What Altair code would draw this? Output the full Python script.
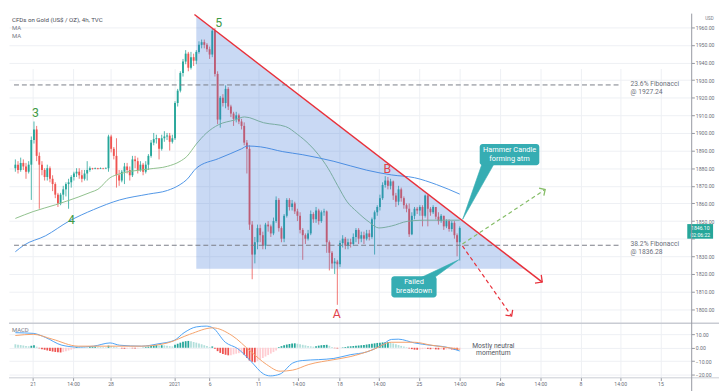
import math
import numpy as np
import pandas as pd
import altair as alt

FONT = "Roboto"

# ---------------- layout constants ----------------
X_DOMAIN = [-0.54, 252.2]          # bar index shown across the plot
PRICE_DOMAIN = [1792.4, 1967.7]
MACD_DOMAIN = [-22.1, 17.9]
W, H = 692, 369
PRICE_RANGE = [313.3, 0]
MACD_RANGE = [369, 314.4]

# ---------------- candle data (4h bars, index 0..167) ----------------
OPEN_0 = 1880.0
CLOSE = [
    1882, 1879, 1883, 1881, 1878, 1882, 1896, 1902, 1887, 1882,
    1879, 1875, 1880, 1874, 1871, 1865, 1860, 1865, 1868, 1871,
    1872, 1875, 1877, 1878, 1876, 1874, 1877, 1879, 1880, 1879.6,
    1880, 1879.6, 1880, 1879.7, 1880, 1898, 1891, 1887, 1876, 1873,
    1878, 1881, 1879, 1876, 1885, 1884, 1879, 1882, 1878, 1882,
    1887, 1894.5, 1896.5, 1897, 1891, 1897, 1898, 1898.5, 1895, 1897,
    1917, 1924, 1934, 1940.5, 1945, 1937, 1943, 1941, 1946, 1950,
    1951.5, 1950, 1947.5, 1944.5, 1958, 1933.5, 1907.6, 1920, 1917, 1925,
    1915, 1911, 1908, 1910, 1906.5, 1904, 1894.5, 1891, 1848, 1831,
    1838, 1846, 1842, 1836, 1848, 1847, 1843, 1850, 1862, 1846,
    1840, 1853, 1862, 1858, 1860, 1855.5, 1853, 1845, 1842, 1840,
    1843, 1854, 1851, 1856, 1850, 1855, 1855.5, 1838, 1832, 1826,
    1827, 1825.5, 1837.5, 1840, 1836, 1838, 1837, 1841, 1845, 1840,
    1842, 1840, 1843, 1841, 1851, 1855, 1858, 1863, 1870.5, 1873,
    1870, 1872.5, 1864.5, 1861, 1868, 1863, 1859, 1857, 1842.5, 1853,
    1857, 1856, 1858, 1853, 1864.5, 1857, 1855, 1858, 1852.5, 1850,
    1853, 1847, 1850, 1845.5, 1849, 1842, 1838, 1846.1,
]
HIGH = [
    1885, 1884, 1886, 1885, 1883, 1884, 1898, 1906.5, 1904, 1889,
    1884, 1880, 1882, 1881, 1876, 1872, 1866, 1866, 1870, 1872,
    1874, 1876, 1878, 1880, 1880, 1879, 1879, 1884, 1881, 1880.2,
    1880.4, 1880.2, 1880.4, 1880.2, 1880.5, 1899, 1899, 1892, 1897, 1879,
    1879, 1883, 1883, 1881, 1887, 1887, 1886, 1884, 1883, 1884,
    1888, 1896, 1900, 1899, 1897, 1899, 1901, 1900, 1900, 1899,
    1918, 1925, 1935, 1942, 1947, 1946, 1946, 1945, 1947, 1952,
    1953, 1953, 1951, 1949, 1959, 1959.5, 1935, 1921, 1922, 1927,
    1926, 1916, 1912, 1912, 1911, 1908, 1906, 1896, 1893, 1850,
    1841, 1848, 1848, 1844, 1849, 1850, 1848, 1852, 1864, 1863,
    1847, 1854, 1863, 1863, 1862, 1861, 1857, 1855, 1846, 1843,
    1845, 1856, 1855, 1858, 1857, 1856, 1857, 1856, 1839, 1833,
    1829, 1828, 1839, 1842, 1841, 1840, 1840, 1843, 1846, 1846,
    1844, 1844, 1845, 1845, 1852, 1856, 1859, 1865, 1872, 1875.5,
    1875, 1874, 1873, 1866, 1870, 1869, 1864, 1860, 1860, 1855,
    1858, 1858, 1859, 1859, 1865, 1865, 1858, 1859, 1858, 1855,
    1854, 1853, 1851, 1851, 1850, 1850, 1843, 1847,
]
LOW = [
    1878, 1877, 1878, 1879, 1874, 1877, 1862, 1894, 1884, 1857,
    1876, 1873, 1873, 1872, 1867, 1863, 1858, 1859, 1862, 1864,
    1857, 1869, 1873, 1875, 1874, 1872, 1873, 1873, 1878, 1879.2,
    1879.4, 1879.3, 1879.5, 1879.4, 1879.5, 1878, 1889, 1885, 1869, 1870,
    1872, 1871, 1877, 1873, 1875, 1880, 1877, 1878, 1876, 1877,
    1879, 1886, 1893, 1894, 1885, 1890, 1895, 1896, 1890, 1894,
    1896, 1915, 1923, 1932, 1939, 1935, 1936, 1938, 1939, 1945,
    1948, 1948, 1946, 1942, 1943, 1932, 1905, 1903, 1915, 1914,
    1913, 1909, 1904, 1906, 1905, 1902, 1893, 1877, 1845, 1817,
    1826, 1834, 1838, 1834, 1834, 1844, 1841, 1842, 1849, 1844,
    1838, 1838, 1852, 1856, 1856, 1854, 1850, 1843, 1828, 1837,
    1839, 1842, 1849, 1849, 1848, 1849, 1853, 1832, 1822, 1823,
    1820, 1802.5, 1824, 1835, 1834, 1834, 1835, 1836, 1838, 1837,
    1838, 1837, 1839, 1839, 1840, 1831, 1853, 1856, 1862, 1869,
    1868, 1868, 1862, 1858, 1859, 1861, 1857, 1855, 1841, 1842,
    1851, 1854, 1853, 1847, 1852, 1847, 1853, 1854, 1851, 1848,
    1849, 1845, 1846, 1844, 1844, 1840, 1830, 1827.6,
]

# ---------------- moving averages (read at sample positions) ----------------
GREEN_MA_X = [0, 6.7, 15, 23.6, 28.4, 31, 35.6, 39.2, 50, 57.2, 61.9, 64.4, 68, 71.7, 76.4,
              82.5, 86.1, 93.3, 101.6, 106, 110.3, 113.9, 117.5, 121.1, 124.7, 128.3, 133,
              136.6, 141.3, 147.5, 153.6, 160.1, 167]
GREEN_MA_Y = [1851.5, 1855.4, 1859.2, 1863.6, 1866.4, 1868, 1874.6, 1876.8, 1879.5, 1881.1,
              1883.9, 1886.6, 1893.7, 1899.8, 1904.7, 1907.4, 1909.1, 1905.8, 1903.6, 1899.2,
              1893.7, 1887.7, 1880, 1870.2, 1860.9, 1855.4, 1849.4, 1846.1, 1847.2, 1849.9,
              1850.5, 1850.5, 1850.5]
BLUE_MA_X = [0, 3.1, 11.4, 20.1, 29.4, 39.2, 50, 57.2, 61.9, 64.4, 68, 76.4, 85, 87.2, 92.2,
             100.5, 107.8, 119.7, 132, 141.3, 150, 158.3, 167]
BLUE_MA_Y = [1832.6, 1836.2, 1841.7, 1849.9, 1856.5, 1862, 1865.3, 1867.4, 1870.7, 1873.5,
             1880, 1885.5, 1891, 1892.6, 1892.1, 1889.4, 1887.7, 1883.9, 1878.9, 1876.2,
             1874.6, 1870.7, 1865.3]

# ---------------- MACD ----------------
HIST = [
    2.6, 2.3, 2.0, 1.7, 1.4, 1.1, 1.5, 1.9, 0.8, -0.4,
    -1.0, -1.5, -2.0, -2.4, -2.8, -3.1, -3.4, -3.5, -3.1, -2.6,
    -2.0, -1.4, -0.9, 0.6, 0.5, 0.4, 0.35, 0.3, 0.6, 0.8,
    0.9, 0.8, 0.6, 0.5, 0.4, 1.6, 1.3, 0.9, 0.5, 0.0,
    -0.5, -0.7, -0.6, -0.3, -0.4, -0.6, -0.4, -0.1, 0.2, 0.5,
    0.9, 1.4, 1.8, 2.0, 1.7, 1.9, 1.8, 1.5, 1.2, 1.0,
    2.2, 3.0, 3.8, 4.4, 4.9, 5.1, 4.8, 4.3, 3.8, 3.2,
    2.6, 1.9, 1.3, 0.6, 1.0, -0.8, -2.5, -3.8, -4.6, -5.2,
    -5.6, -5.5, -4.9, -4.4, -4.0, -3.6, -5.2, -7.6, -9.5, -10.4,
    -10.8, -9.8, -8.7, -7.6, -6.5, -5.4, -4.3, -3.2, -2.0, 0.5,
    1.2, 1.9, 2.4, 2.8, 3.2, 3.3, 3.0, 2.6, 2.2, 1.8,
    1.4, 1.1, 0.8, 1.2, 1.6, 1.9, 2.1, 2.2, 1.5, 0.6,
    -0.3, -0.5, -0.2, 0.3, 0.6, 0.9, 1.1, 1.3, 1.5, 1.7,
    1.9, 2.1, 2.4, 2.7, 3.0, 3.3, 3.6, 3.8, 4.0, 4.2,
    4.3, 3.8, 3.2, 2.6, 2.0, 1.4, 0.9, 0.4, -0.5, -1.0,
    -1.4, -1.5, -1.3, -1.0, -0.6, -0.8, -1.1, -0.9, -1.2, -1.3,
    -1.1, -1.4, -1.2, -1.0, -1.3, -1.5, -1.7, -1.3,
]
MACD_X = [0, 6.7, 11.4, 17.5, 23.6, 29.4, 35.6, 39.2, 47.5, 53.6, 59.7, 63.4, 68, 71.7, 74.2,
          78.9, 83.6, 88.6, 93.3, 95.8, 99.5, 104.2, 107.8, 113.9, 119.7, 125.8, 132, 137.7,
          141.3, 143.9, 150, 155.8, 161.9, 167]
MACD_Y = [11.2, 10.7, 7.6, 1.9, 0.5, 1.2, 3.6, 1.9, 1.2, 2.9, 5.5, 11.2, 15.5, 16.1, 14.8,
          4.1, -0.7, -10.2, -19.5, -20.9, -19.5, -11.4, -9.5, -8.8, -7.9, -5.2, -3.1, 1.9,
          6.2, 6.4, 3.6, 1.9, 0.5, -2.4]
SIGNAL_X = [0, 6.7, 13.9, 23.6, 35.6, 47.5, 57.2, 65.5, 74.2, 81.4, 88.6, 94.4, 99.5, 104.2,
            110.3, 119.7, 125.8, 134.1, 141.3, 150, 155.8, 167]
SIGNAL_Y = [9.1, 10.0, 6.4, 1.2, 1.2, 1.2, 3.6, 10.0, 14.8, 9.1, -3.0, -12.4, -17.4, -16.6,
            -12.4, -8.8, -6.6, -1.6, 4.1, 4.1, 2.1, -1.1]

# ---------------- axes ----------------
TICK_POS = [6.5, 21.7, 35.8, 59.7, 73.0, 91.2, 106.3, 121.8, 136.6, 151.6, 167.0, 182.1,
            197.3, 212.4, 227.3, 242.4]
TICK_TEXT = ["21", "14:00", "28", "2021", "6", "11", "14:00", "18", "14:00", "25", "14:00",
             "Feb", "14:00", "8", "14:00", "15"]
PRICE_TICKS = list(range(1800, 1961, 10))
PRICE_HIDDEN_LABEL = 1840          # covered by the last-price tag in the reference
MACD_TICKS = [-20, -10, 0, 10]

# ---------------- annotations ----------------
FIB_LEVELS = [1927.24, 1836.28]
FIB_NAME = ["23.6% Fibonacci", "38.2% Fibonacci"]
FIB_VALUE = ["@ 1927.24", "@ 1836.28"]
FIB_X = [-0.5, 227.6]
FIB_LABEL_X = 231.2

TREND_X = [67.3, 198.0]
TREND_Y = [1967.2, 1815.4]
WEDGE_X = [68.0, 191.5]
WEDGE_TOP = [1966.4, 1823.0]
WEDGE_BASE = 1823.0
UP_X = [168.0, 199.1]
UP_Y = [1837.0, 1867.9]
DOWN_X = [168.0, 186.5]
DOWN_Y = [1835.9, 1796.1]

WAVE_TEXT = ["3", "4", "5"]
WAVE_X = [7.6, 21.1, 76.4]
WAVE_Y = [1911.1, 1850.5, 1962.2]
PIVOT_TEXT = ["A", "B"]
PIVOT_X = [120.8, 139.8]
PIVOT_Y = [1797.0, 1879.5]

HAMMER_BOX = {"x0": 174.5, "x1": 196.9, "y0": 1881.7, "y1": 1893.7}
HAMMER_TAIL_X = [175.3, 179.8, 168.1]
HAMMER_TAIL_Y = [1882.2, 1882.2, 1851.0]
HAMMER_TEXT = ["Hammer Candle", "forming atm"]
HAMMER_TEXT_X = 185.7
HAMMER_TEXT_Y = [1890.4, 1885.3]

FAILED_BOX = {"x0": 141.3, "x1": 158.3, "y0": 1806.7, "y1": 1818.7}
FAILED_TAIL_X = [152.5, 157.5, 166.6]
FAILED_TAIL_Y = [1818.0, 1818.0, 1828.0]
FAILED_TEXT = ["Failed", "breakdown"]
FAILED_TEXT_X = 149.8
FAILED_TEXT_Y = [1815.3, 1810.2]

TAG_BOX = {"x0": 252.5, "x1": 262.2, "y0": 1840.0, "y1": 1848.3}
TAG_TEXT = ["1846.10", "02:06:22"]
TAG_TEXT_X = 257.4
TAG_TEXT_Y = [1846.2, 1842.0]

NOTE_TEXT = ["Mostly neutral", "momentum"]
NOTE_X = 179.6
NOTE_Y = [1.3, -4.0]

# ---------------- colours ----------------
UP_C, DN_C = "#26a69a", "#ef5350"
TEAL = "#36adb3"
TREND_RED = "#e8313b"
GRID = "#eef0f4"
AXIS_TXT = "#6a6d78"

# ---------------- helpers ----------------
label_expr = " : ".join(f"datum.value == {p} ? '{t}'" for p, t in zip(TICK_POS, TICK_TEXT)) + " : ''"
price_label_expr = f"datum.value == {PRICE_HIDDEN_LABEL} ? '' : format(datum.value, '.2f')"

x_axis = alt.Axis(values=TICK_POS, labelExpr=label_expr, title=None, grid=True, gridColor=GRID,
                  domain=False, tickSize=3, tickColor="#9598a1", labelFontSize=5.2,
                  labelColor=AXIS_TXT, labelPadding=1, labelFont=FONT, labelOverlap=False,
                  labelFlush=False)
price_axis = alt.Axis(orient="right", values=PRICE_TICKS, labelExpr=price_label_expr, title=None,
                      grid=True, gridColor=GRID, domain=False, tickSize=3, tickColor="#9598a1",
                      labelFontSize=5.2, labelColor=AXIS_TXT, labelPadding=1, labelFont=FONT,
                      labelOverlap=False, labelFlush=False)
macd_axis = alt.Axis(orient="right", values=MACD_TICKS, format=".2f", title=None, grid=True,
                     gridColor=GRID, domain=False, tickSize=3, tickColor="#9598a1",
                     labelFontSize=5.2, labelColor=AXIS_TXT, labelPadding=1, labelFont=FONT,
                     labelOverlap=False, labelFlush=False)


def X(field):
    return alt.X(field, type="quantitative",
                 scale=alt.Scale(domain=X_DOMAIN, nice=False, zero=False), axis=x_axis)


def YP(field):
    return alt.Y(field, type="quantitative",
                 scale=alt.Scale(domain=PRICE_DOMAIN, range=PRICE_RANGE, nice=False, zero=False),
                 axis=price_axis)


def YM(field):
    return alt.Y(field, type="quantitative",
                 scale=alt.Scale(domain=MACD_DOMAIN, range=MACD_RANGE, nice=False, zero=False),
                 axis=macd_axis)


kx = W / (X_DOMAIN[1] - X_DOMAIN[0])
ky = PRICE_RANGE[0] / (PRICE_DOMAIN[1] - PRICE_DOMAIN[0])


def heading(xs, ys):
    return math.degrees(math.atan2(-(ys[1] - ys[0]) * ky, (xs[1] - xs[0]) * kx)) % 360


one = pd.DataFrame({"k": [0]})


def px_text(txt, x, y, size, color, align="left"):
    return alt.Chart(one).mark_text(text=txt, align=align, baseline="middle", fontSize=size,
                                    color=color, font=FONT).encode(x=alt.value(x), y=alt.value(y))


# ---------------- frames ----------------
n = len(CLOSE)
candles = pd.DataFrame({"i": list(range(n)), "o": [OPEN_0] + CLOSE[:-1], "h": HIGH, "l": LOW,
                        "c": CLOSE})
candles["col"] = np.where(candles["c"] >= candles["o"], UP_C, DN_C)

hist = pd.DataFrame({"i": list(range(len(HIST))), "h": HIST})
prev = hist["h"].shift(1)
hist["col"] = np.where(hist["h"] >= 0,
                       np.where(hist["h"] > prev, "#26a69a", "#b2dfdb"),
                       np.where(hist["h"] < prev, "#ef5350", "#ffcdd2"))

green_ma = pd.DataFrame({"x": GREEN_MA_X, "y": GREEN_MA_Y})
blue_ma = pd.DataFrame({"x": BLUE_MA_X, "y": BLUE_MA_Y})
macd_df = pd.DataFrame({"x": MACD_X, "y": MACD_Y})
sig_df = pd.DataFrame({"x": SIGNAL_X, "y": SIGNAL_Y})

wedge = pd.DataFrame({"x": WEDGE_X, "top": WEDGE_TOP, "base": [WEDGE_BASE] * 2})
fib = pd.DataFrame({"x0": [FIB_X[0]] * 2, "x1": [FIB_X[1]] * 2, "lvl": FIB_LEVELS})
fib_txt = pd.DataFrame({"x": [FIB_LABEL_X] * 4,
                        "y": [FIB_LEVELS[0] + 0.8, FIB_LEVELS[0] - 4.0,
                              FIB_LEVELS[1] + 0.8, FIB_LEVELS[1] - 4.0],
                        "t": [FIB_NAME[0], FIB_VALUE[0], FIB_NAME[1], FIB_VALUE[1]]})
trend = pd.DataFrame({"x": TREND_X, "y": TREND_Y})
dashed = pd.DataFrame({"x": UP_X + DOWN_X, "y": UP_Y + DOWN_Y,
                       "name": ["up", "up", "down", "down"],
                       "col": ["#86bd68", "#86bd68", TREND_RED, TREND_RED]})
heads = pd.DataFrame({"x": [TREND_X[1], UP_X[1], DOWN_X[1]],
                      "y": [TREND_Y[1], UP_Y[1], DOWN_Y[1]],
                      "ang": [heading(TREND_X, TREND_Y), heading(UP_X, UP_Y),
                              heading(DOWN_X, DOWN_Y)],
                      "col": [TREND_RED, "#86bd68", TREND_RED],
                      "sz": [110, 80, 80]})
waves = pd.DataFrame({"x": WAVE_X, "y": WAVE_Y, "t": WAVE_TEXT})
pivots = pd.DataFrame({"x": PIVOT_X, "y": PIVOT_Y, "t": PIVOT_TEXT})
boxes = pd.DataFrame([HAMMER_BOX, FAILED_BOX])
tails = pd.DataFrame({"x": HAMMER_TAIL_X + FAILED_TAIL_X, "y": HAMMER_TAIL_Y + FAILED_TAIL_Y,
                      "name": ["h"] * 3 + ["f"] * 3, "k": [0, 1, 2] * 2})
box_txt = pd.DataFrame({"x": [HAMMER_TEXT_X] * 2 + [FAILED_TEXT_X] * 2,
                        "y": HAMMER_TEXT_Y + FAILED_TEXT_Y, "t": HAMMER_TEXT + FAILED_TEXT})
tag = pd.DataFrame([TAG_BOX])
tag_txt = pd.DataFrame({"x": [TAG_TEXT_X] * 2, "y": TAG_TEXT_Y, "t": TAG_TEXT})
note = pd.DataFrame({"x": [NOTE_X] * 2, "y": NOTE_Y, "t": NOTE_TEXT})

# ---------------- price pane ----------------
wicks = alt.Chart(candles).mark_rule(strokeWidth=0.8).encode(
    x=X("i"), y=YP("l"), y2=alt.Y2("h"), color=alt.Color("col:N", scale=None))
bodies = alt.Chart(candles).mark_bar(size=1.9, opacity=1).encode(
    x=X("i"), y=YP("o"), y2=alt.Y2("c"), color=alt.Color("col:N", scale=None))
ma_g = alt.Chart(green_ma).mark_line(color="#8fc08c", strokeWidth=1, interpolate="monotone").encode(
    x=X("x"), y=YP("y"))
ma_b = alt.Chart(blue_ma).mark_line(color="#4f95e6", strokeWidth=1, interpolate="monotone").encode(
    x=X("x"), y=YP("y"))
wedge_l = alt.Chart(wedge).mark_area(color="#3d78d8", opacity=0.28).encode(
    x=X("x"), y=YP("top"), y2=alt.Y2("base"))
fib_l = alt.Chart(fib).mark_rule(color="#7a7d86", strokeWidth=1, strokeDash=[5, 3]).encode(
    x=X("x0"), x2=alt.X2("x1"), y=YP("lvl"))
fib_t = alt.Chart(fib_txt).mark_text(align="left", baseline="middle", fontSize=6.8,
                                     color="#6b6f7a", font=FONT).encode(
    x=X("x"), y=YP("y"), text="t:N")
trend_l = alt.Chart(trend).mark_line(color=TREND_RED, strokeWidth=1.5).encode(x=X("x"), y=YP("y"))
dash_l = alt.Chart(dashed).mark_line(strokeWidth=1.2, strokeDash=[4, 3]).encode(
    x=X("x"), y=YP("y"), detail="name:N", color=alt.Color("col:N", scale=None))
heads_l = alt.Chart(heads).mark_point(shape="M-1,-1L0,0L-1,1", filled=False, strokeWidth=1.3,
                                      opacity=1).encode(
    x=X("x"), y=YP("y"), angle=alt.Angle("ang:Q", scale=None),
    color=alt.Color("col:N", scale=None), size=alt.Size("sz:Q", scale=None))
box_l = alt.Chart(boxes).mark_rect(color=TEAL, cornerRadius=3, opacity=1).encode(
    x=X("x0"), x2=alt.X2("x1"), y=YP("y0"), y2=alt.Y2("y1"))
tail_l = alt.Chart(tails).mark_line(interpolate="linear-closed", fill=TEAL, stroke=TEAL,
                                    strokeWidth=0.6).encode(
    x=X("x"), y=YP("y"), detail="name:N", order=alt.Order("k:Q"))
box_t = alt.Chart(box_txt).mark_text(color="white", fontSize=7.5, font=FONT,
                                     baseline="middle").encode(x=X("x"), y=YP("y"), text="t:N")
wave_t = alt.Chart(waves).mark_text(color="#3f9a45", fontSize=12.5, font=FONT,
                                    baseline="middle").encode(x=X("x"), y=YP("y"), text="t:N")
piv_t = alt.Chart(pivots).mark_text(color="#e2434b", fontSize=12.5, font=FONT,
                                    baseline="middle").encode(x=X("x"), y=YP("y"), text="t:N")
tag_r = alt.Chart(tag).mark_rect(color="#26a69a", opacity=1).encode(
    x=X("x0"), x2=alt.X2("x1"), y=YP("y0"), y2=alt.Y2("y1"))
tag_t = alt.Chart(tag_txt).mark_text(color="white", fontSize=5.2, font=FONT,
                                     baseline="middle").encode(x=X("x"), y=YP("y"), text="t:N")

sep1 = alt.Chart(one).mark_rule(color="#c9ccd3", strokeWidth=1.5).encode(
    x=alt.value(0), x2=alt.value(720), y=alt.value(313.9))
sep2 = alt.Chart(one).mark_rule(color="#c9ccd3", strokeWidth=1).encode(
    x=alt.value(0), x2=alt.value(720), y=alt.value(369.3))
vline = alt.Chart(one).mark_rule(color="#9598a1", strokeWidth=1).encode(
    x=alt.value(692.3), y=alt.value(0), y2=alt.value(383))

price = alt.layer(
    wicks, bodies, ma_g, ma_b, wedge_l, fib_l, fib_t, trend_l, dash_l, heads_l,
    tail_l, box_l, box_t, wave_t, piv_t, tag_r, tag_t,
    px_text("CFDs on Gold (US$ / OZ), 4h, TVC", 3, 6.9, 6.2, "#4a4d57"),
    px_text("MA", 3, 14.7, 6, "#787b86"),
    px_text("MA", 3, 22.5, 6, "#787b86"),
    px_text("USD", 706, 5.5, 4.5, "#787b86"),
)

# ---------------- MACD pane ----------------
hist_l = alt.Chart(hist).mark_bar(size=1.8, opacity=1).encode(
    x=X("i"), y=YM("h"), y2=alt.datum(0), color=alt.Color("col:N", scale=None))
macd_l = alt.Chart(macd_df).mark_line(color="#4da3f5", strokeWidth=1, interpolate="monotone").encode(
    x=X("x"), y=YM("y"))
sig_l = alt.Chart(sig_df).mark_line(color="#f5a26a", strokeWidth=1, interpolate="monotone").encode(
    x=X("x"), y=YM("y"))
note_t = alt.Chart(note).mark_text(color="#555863", fontSize=6.8, font=FONT,
                                   baseline="middle").encode(x=X("x"), y=YM("y"), text="t:N")

macd = alt.layer(hist_l, macd_l, sig_l, note_t,
                 px_text("MACD", 3, 320.5, 6, "#787b86"))

chart = alt.layer(price, macd, sep1, sep2, vline).resolve_scale(y="independent").properties(
    width=W, height=H, padding=0
).configure_view(stroke=None)

chart.save("out.html", embed_options={"renderer": "svg", "actions": False})
